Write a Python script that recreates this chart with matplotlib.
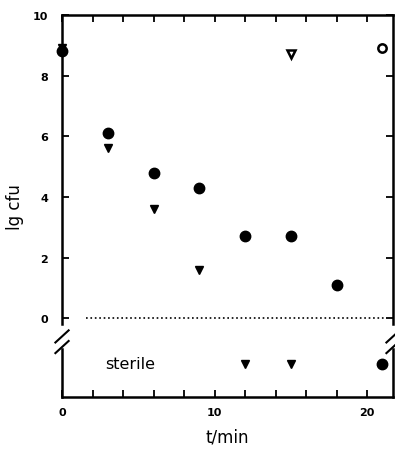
import matplotlib
matplotlib.use('Agg')
import matplotlib.pyplot as plt
import numpy as np

# data (lg cfu vs time in min)
STERILE = -1.5
t_circle = [0, 3, 6, 9, 12, 15, 18, 21]
lg_circle = [8.8, 6.1, 4.8, 4.3, 2.7, 2.7, 1.1, STERILE]
t_tri = [0, 3, 6, 9, 12, 15]
lg_tri = [8.9, 5.6, 3.6, 1.6, STERILE, STERILE]
t_open_tri = [15]
lg_open_tri = [8.7]
t_open_circle = [21]
lg_open_circle = [8.9]
detect_line_t = [1.6, 21.1]
detect_line_lg = [0, 0]
yticks = [0, 2, 4, 6, 8, 10]
xticks_major = [0, 10, 20]
xticks_minor = list(range(2, 21, 2))

fig = plt.figure(figsize=(3.95, 4.56), dpi=100)
ax = fig.add_axes([0.157, 0.127, 0.838, 0.838])
ax.set_xlim(0, 21.7)
ax.set_ylim(-2.6, 10)

ax.plot(t_circle, lg_circle, 'o', color='black', ms=7.5, ls='none', clip_on=False)
ax.plot(t_tri, lg_tri, 'v', color='black', ms=5.8, ls='none', clip_on=False)
ax.plot(t_open_tri, lg_open_tri, 'v', mfc='white', mec='black', mew=1.8, ms=6, ls='none')
ax.plot(t_open_circle, lg_open_circle, 'o', mfc='white', mec='black', mew=1.8, ms=6, ls='none')
ax.plot(detect_line_t, detect_line_lg, ':', color='black', lw=1.2)

ax.text(2.8, STERILE, 'sterile', fontsize=11.5, va='center', ha='left')

ax.set_yticks(yticks)
ax.set_xticks(xticks_major)
ax.set_xticks(xticks_minor, minor=True)
ax.tick_params(axis='both', which='both', direction='in', length=5, width=1.3,
               labelsize=8, top=True, right=True)
ax.tick_params(axis='x', which='major', pad=7)
ax.tick_params(axis='y', which='major', pad=10)
for lab in ax.get_xticklabels() + ax.get_yticklabels():
    lab.set_fontweight('bold')

ax.set_ylabel('lg cfu', fontsize=12, labelpad=6)
ax.set_xlabel('t/min', fontsize=12, labelpad=8)

# axis break on left and right spines
for side in ['top', 'bottom', 'left', 'right']:
    ax.spines[side].set_linewidth(1.8)
ax.spines['left'].set_visible(False)
ax.spines['right'].set_visible(False)
brk_hi, brk_lo = -0.2, -1.0
for xs in [0, 1]:
    tr = ax.get_yaxis_transform()
    ax.plot([xs, xs], [brk_hi, 10], color='black', lw=1.8, transform=tr, clip_on=False)
    ax.plot([xs, xs], [-2.6, brk_lo], color='black', lw=1.8, transform=tr, clip_on=False)
    for dy in [0.0, 0.35]:
        ax.plot([xs - 0.02, xs + 0.02], [brk_lo + dy - 0.15, brk_lo + dy + 0.25],
                color='black', lw=1.5, transform=tr, clip_on=False)

fig.savefig('out.png', dpi=100)
